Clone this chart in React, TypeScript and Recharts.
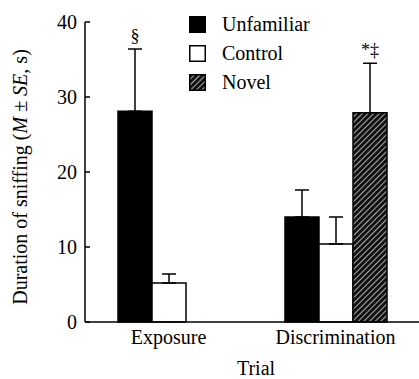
import React from 'react';
import {
  BarChart,
  Bar,
  XAxis,
  YAxis,
  ErrorBar,
  LabelList
} from 'recharts';

const categories = ['Exposure', 'Discrimination'];
const unfamiliar = [28.1, 14.0];
const unfamiliarSE = [8.3, 3.6];
const control = [5.2, 10.4];
const controlSE = [1.2, 3.6];
const novel = [null, 27.9];
const novelSE = [null, 6.6];
const unfamiliarNotes = ['§', ''];
const novelNotes = ['', '*‡'];
const yTicks = [0, 10, 20, 30, 40];

const data = categories.map((trial, i) => ({
  trial,
  unfamiliar: unfamiliar[i],
  unfamiliarErr: [0, unfamiliarSE[i]],
  control: control[i],
  controlErr: [0, controlSE[i]],
  novel: novel[i],
  novelErr: novel[i] == null ? null : [0, novelSE[i] as number],
}));

const FONT = 'Liberation Serif';
const txt = { fontFamily: FONT };

const legendItems = [
  { name: 'Unfamiliar', fill: '#000' },
  { name: 'Control', fill: '#fff' },
  { name: 'Novel', fill: 'url(#hatch)' },
];

// label above the error bar; value is the trial name, used to look up the group
const makeNote = (values: (number | null)[], seList: (number | null)[], notes: string[]) => (props: any) => {
  const { x, y, width, height, value } = props;
  const i = categories.indexOf(value);
  if (i < 0 || !notes[i] || values[i] == null) return null;
  const scale = height / (values[i] as number);
  const top = y - (seList[i] as number) * scale;
  return (
    <text x={x + width / 2} y={top - 7} textAnchor="middle" fontSize={18} style={txt} fill="#000">
      {notes[i]}
    </text>
  );
};

const YTick = (props: any) => {
  const { x, y, payload } = props;
  return (
    <g>
      <line x1={x + 8} y1={y} x2={x + 13} y2={y} stroke="#000" strokeWidth={1.5} />
      <text x={x} y={y} dy="0.35em" textAnchor="end" fontSize={20} style={txt} fill="#000">
        {payload.value}
      </text>
    </g>
  );
};

const XTick = (props: any) => {
  const { x, y, payload } = props;
  return (
    <text x={x} y={y} dy="0.71em" textAnchor="middle" fontSize={20} style={txt} fill="#000">
      {payload.value}
    </text>
  );
};

const YLabel = (props: any) => {
  const { viewBox } = props;
  const cx = viewBox.x + 15;
  const cy = viewBox.y + viewBox.height / 2 + 5;
  return (
    <text
      x={cx}
      y={cy}
      transform={`rotate(-90, ${cx}, ${cy})`}
      textAnchor="middle"
      dominantBaseline="central"
      fontSize={20}
      style={txt}
      fill="#000"
    >
      Duration of sniffing (<tspan fontStyle="italic">M</tspan> ± <tspan fontStyle="italic">SE</tspan>, s)
    </text>
  );
};

const XLabel = (props: any) => {
  const { viewBox } = props;
  return (
    <text
      x={viewBox.x + viewBox.width / 2 + 4}
      y={viewBox.y + viewBox.height - 4}
      textAnchor="middle"
      fontSize={20}
      style={txt}
      fill="#000"
    >
      Trial
    </text>
  );
};

const LegendBox = () => (
  <div style={{ position: 'absolute', left: 189, top: 10, fontFamily: FONT, fontSize: 20, color: '#000' }}>
    {legendItems.map((it) => (
      <div key={it.name} style={{ display: 'flex', alignItems: 'center', height: 29 }}>
        <svg width={17} height={17} style={{ marginRight: 16 }}>
          <rect x={0.75} y={0.75} width={15.5} height={15.5} fill={it.fill} stroke="#000" strokeWidth={1.5} />
        </svg>
        <span>{it.name}</span>
      </div>
    ))}
  </div>
);

export default function App() {
  return (
    <div style={{ position: 'absolute', left: 0, top: 0, width: 419, height: 379, background: '#fff', fontFamily: FONT }}>
      <svg width={0} height={0} style={{ position: 'absolute' }}>
        <defs>
          <pattern id="hatch" width={4} height={4} patternUnits="userSpaceOnUse" patternTransform="rotate(45)">
            <rect width={4} height={4} fill="#111" />
            <line x1={0} y1={0} x2={0} y2={4} stroke="#fff" strokeWidth={1.3} />
          </pattern>
        </defs>
      </svg>
      <BarChart
        width={419}
        height={379}
        data={data}
        margin={{ top: 22, right: 0, left: 5, bottom: 0 }}
        barGap={0}
        barSize={34}
      >
        <XAxis
          dataKey="trial"
          axisLine={{ stroke: '#000', strokeWidth: 1.5 }}
          tickLine={false}
          tickSize={0}
          tickMargin={8}
          height={57}
          tick={<XTick />}
          label={<XLabel />}
        />
        <YAxis
          width={80}
          domain={[0, 40]}
          ticks={yTicks}
          axisLine={{ stroke: '#000', strokeWidth: 1.5 }}
          tickLine={false}
          tickSize={0}
          tickMargin={8}
          tick={<YTick />}
          label={<YLabel />}
        />
        <Bar dataKey="unfamiliar" name="Unfamiliar" fill="#000" stroke="#000" strokeWidth={1.5} isAnimationActive={false}>
          <ErrorBar dataKey="unfamiliarErr" direction="y" width={7} stroke="#000" strokeWidth={1.5} />
          <LabelList dataKey="trial" content={makeNote(unfamiliar, unfamiliarSE, unfamiliarNotes)} />
        </Bar>
        <Bar dataKey="control" name="Control" fill="#fff" stroke="#000" strokeWidth={1.5} isAnimationActive={false}>
          <ErrorBar dataKey="controlErr" direction="y" width={7} stroke="#000" strokeWidth={1.5} />
        </Bar>
        <Bar dataKey="novel" name="Novel" fill="url(#hatch)" stroke="#000" strokeWidth={1.5} isAnimationActive={false}>
          <ErrorBar dataKey="novelErr" direction="y" width={7} stroke="#000" strokeWidth={1.5} />
          <LabelList dataKey="trial" content={makeNote(novel, novelSE, novelNotes)} />
        </Bar>
      </BarChart>
      <LegendBox />
    </div>
  );
}
